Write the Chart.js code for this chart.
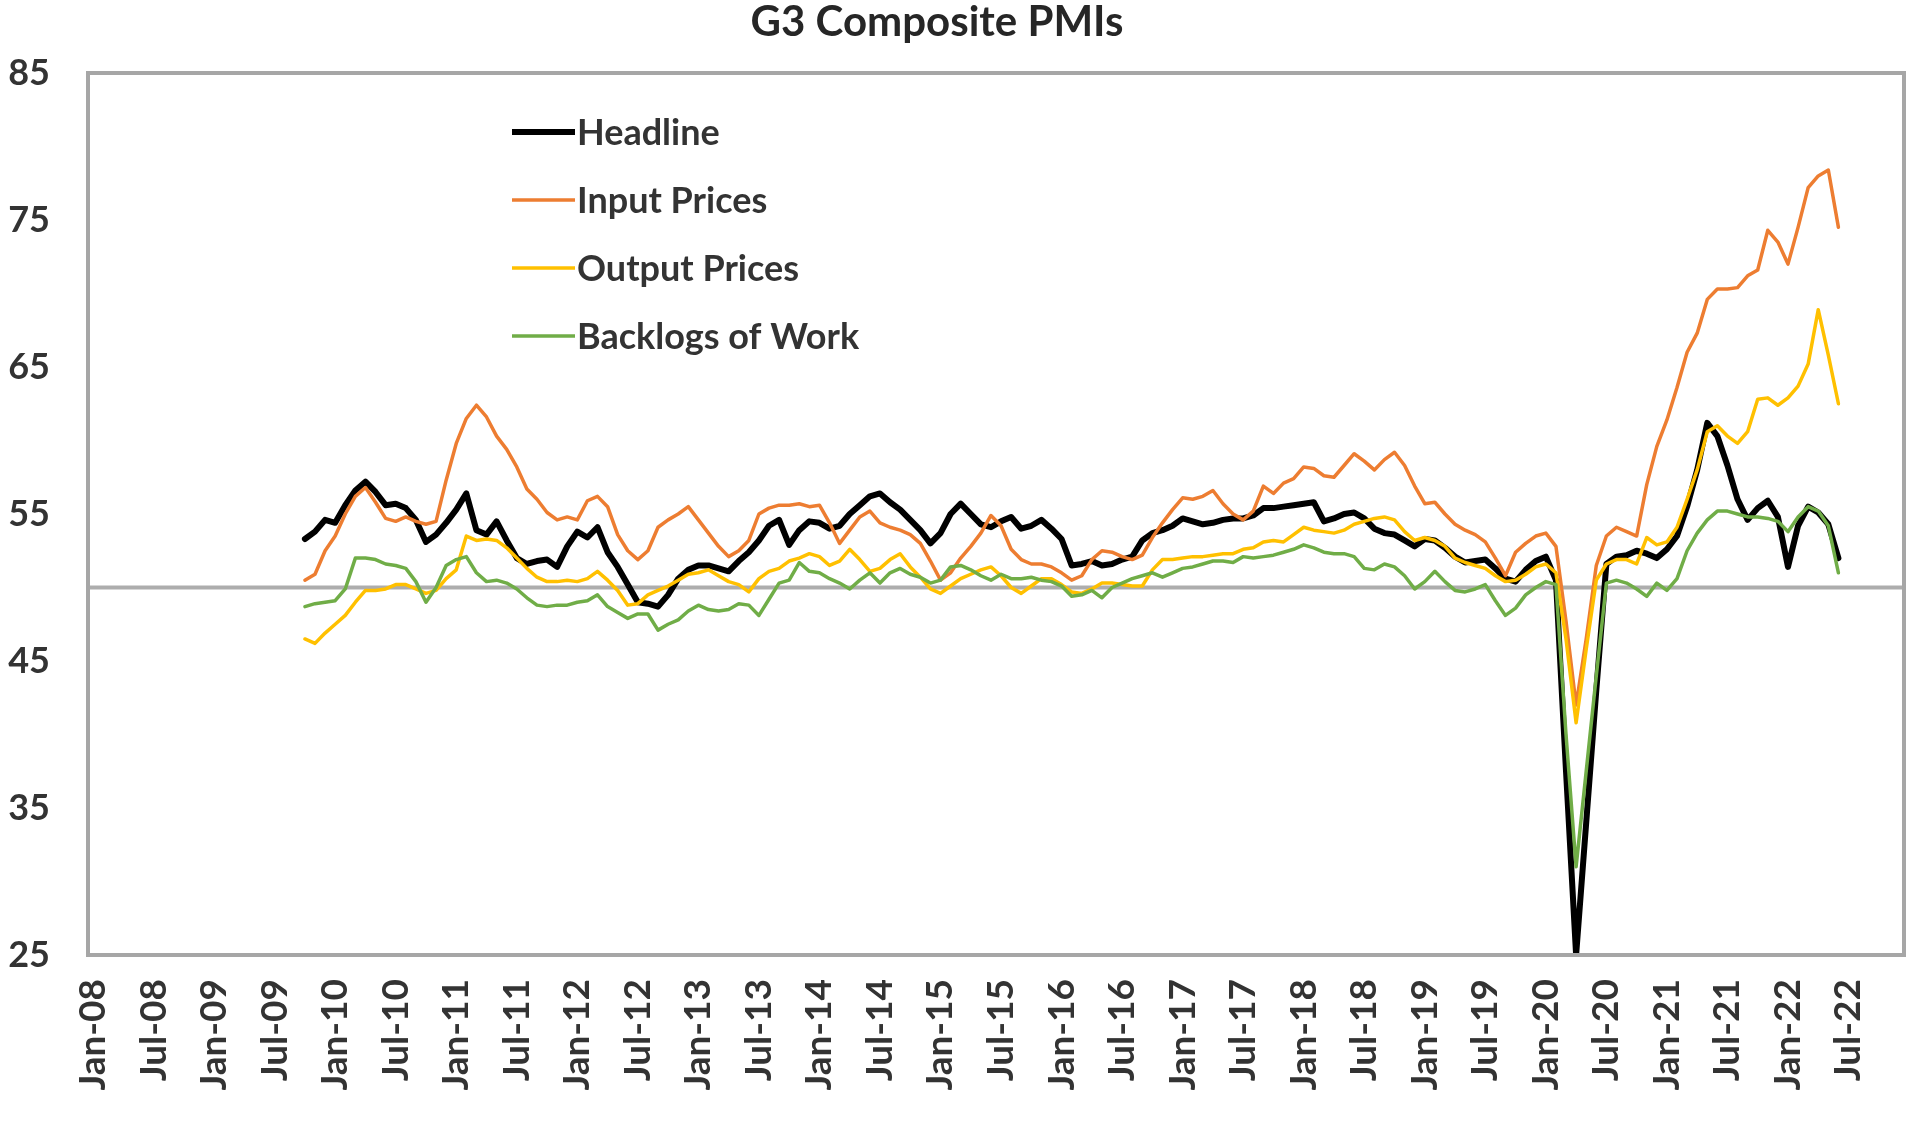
<!DOCTYPE html>
<html>
<head>
<meta charset="utf-8">
<title>G3 Composite PMIs</title>
<script src="https://cdn.jsdelivr.net/npm/chart.js@4.4.1/dist/chart.umd.min.js"></script>
<style>
    html, body { margin: 0; padding: 0; background: #fff; }
    #pmiChart { display: block; }
</style>
</head>
<body>
<canvas id="pmiChart" width="1920" height="1124"></canvas>
<script>
// G3 Composite PMIs - monthly, data from Oct-09 to Jun-22

const monthNames = ['Jan', 'Feb', 'Mar', 'Apr', 'May', 'Jun', 'Jul', 'Aug', 'Sep', 'Oct', 'Nov', 'Dec'];
const yearLabels = ['08', '09', '10', '11', '12', '13', '14', '15', '16', '17', '18', '19', '20', '21', '22'];
const firstDataMonth = 'Oct-09';
const yTicks = [25, 35, 45, 55, 65, 75, 85];
const neutralLevel = 50;

const headline = [
    53.3, 53.8, 54.6, 54.4, 55.6, 56.6, 57.2, 56.5, 55.6, 55.7, 55.4, 54.6,
    53.1, 53.6, 54.4, 55.3, 56.4, 53.9, 53.6, 54.5, 53.2, 52.0, 51.6, 51.8,
    51.9, 51.4, 52.8, 53.8, 53.4, 54.1, 52.4, 51.4, 50.2, 49.0, 48.9, 48.7,
    49.5, 50.6, 51.2, 51.5, 51.5, 51.3, 51.1, 51.8, 52.4, 53.2, 54.2, 54.6,
    52.9, 53.9, 54.5, 54.4, 54.0, 54.2, 55.0, 55.6, 56.2, 56.4, 55.8, 55.3,
    54.6, 53.9, 53.0, 53.7, 55.0, 55.7, 55.0, 54.3, 54.1, 54.5, 54.8, 54.0,
    54.2, 54.6, 54.0, 53.3, 51.5, 51.6, 51.8, 51.5, 51.6, 51.9, 52.1, 53.2,
    53.7, 53.9, 54.2, 54.7, 54.5, 54.3, 54.4, 54.6, 54.7, 54.7, 54.9, 55.4,
    55.4, 55.5, 55.6, 55.7, 55.8, 54.5, 54.7, 55.0, 55.1, 54.7, 54.0, 53.7,
    53.6, 53.2, 52.8, 53.3, 53.2, 52.7, 52.1, 51.7, 51.8, 51.9, 51.3, 50.6,
    50.4, 51.2, 51.8, 52.1, 50.5, 37.5, 25.0, 34.0, 43.0, 51.6, 52.1, 52.2,
    52.5, 52.3, 52.0, 52.6, 53.5, 55.5, 58.0, 61.2, 60.3, 58.3, 56.0, 54.6,
    55.4, 55.9, 54.8, 51.4, 54.2, 55.5, 55.1, 54.3, 52.0
];
const inputPrices = [
    50.5, 50.9, 52.5, 53.5, 55.0, 56.2, 56.8, 55.8, 54.7, 54.5, 54.8, 54.5,
    54.3, 54.5, 57.3, 59.8, 61.5, 62.4, 61.6, 60.3, 59.4, 58.2, 56.7, 56.0,
    55.1, 54.6, 54.8, 54.6, 55.9, 56.2, 55.5, 53.6, 52.5, 51.9, 52.5, 54.1,
    54.6, 55.0, 55.5, 54.6, 53.7, 52.8, 52.1, 52.5, 53.2, 55.0, 55.4, 55.6,
    55.6, 55.7, 55.5, 55.6, 54.4, 53.0, 53.9, 54.8, 55.2, 54.4, 54.1, 53.9,
    53.6, 53.0, 51.8, 50.5, 51.0, 52.0, 52.8, 53.7, 54.9, 54.2, 52.6, 51.9,
    51.6, 51.6, 51.4, 51.0, 50.5, 50.8, 51.9, 52.5, 52.4, 52.1, 51.9, 52.2,
    53.4, 54.4, 55.3, 56.1, 56.0, 56.2, 56.6, 55.7, 55.0, 54.6, 55.2, 56.9,
    56.4, 57.1, 57.4, 58.2, 58.1, 57.6, 57.5, 58.3, 59.1, 58.6, 58.0, 58.7,
    59.2, 58.3, 56.9, 55.7, 55.8, 55.0, 54.3, 53.9, 53.6, 53.1, 52.0, 50.8,
    52.4, 53.0, 53.5, 53.7, 52.8, 47.7, 42.0, 46.5, 51.5, 53.5, 54.1, 53.8,
    53.5, 57.0, 59.6, 61.4, 63.6, 66.0, 67.3, 69.6, 70.3, 70.3, 70.4, 71.2,
    71.6, 74.3, 73.5, 72.0, 74.5, 77.2, 78.0, 78.4, 74.5
];
const outputPrices = [
    46.5, 46.2, 46.9, 47.5, 48.1, 49.0, 49.8, 49.8, 49.9, 50.2, 50.2, 49.9,
    49.6, 49.8, 50.6, 51.2, 53.5, 53.2, 53.3, 53.2, 52.7, 52.0, 51.3, 50.7,
    50.4, 50.4, 50.5, 50.4, 50.6, 51.1, 50.5, 49.8, 48.8, 48.9, 49.5, 49.8,
    50.1, 50.5, 50.9, 51.0, 51.2, 50.8, 50.4, 50.2, 49.7, 50.6, 51.1, 51.3,
    51.8, 52.0, 52.3, 52.1, 51.5, 51.8, 52.6, 51.9, 51.1, 51.3, 51.9, 52.3,
    51.4, 50.7, 49.9, 49.6, 50.1, 50.6, 50.9, 51.2, 51.4, 50.8, 50.0, 49.6,
    50.1, 50.6, 50.6, 50.2, 49.7, 49.6, 49.9, 50.3, 50.3, 50.2, 50.1, 50.1,
    51.2, 51.9, 51.9, 52.0, 52.1, 52.1, 52.2, 52.3, 52.3, 52.6, 52.7, 53.1,
    53.2, 53.1, 53.6, 54.1, 53.9, 53.8, 53.7, 53.9, 54.3, 54.5, 54.7, 54.8,
    54.6, 53.8, 53.2, 53.4, 53.2, 52.8, 52.0, 51.7, 51.5, 51.3, 50.8, 50.4,
    50.5, 50.9, 51.4, 51.6, 51.0, 46.5, 40.8, 45.8, 50.5, 51.6, 51.9, 51.9,
    51.6, 53.4, 52.9, 53.1, 54.1, 56.0, 58.0, 60.6, 61.0, 60.3, 59.8, 60.6,
    62.8, 62.9, 62.4, 62.9, 63.7, 65.2, 68.9, 65.8, 62.5
];
const backlogsOfWork = [
    48.7, 48.9, 49.0, 49.1, 49.9, 52.0, 52.0, 51.9, 51.6, 51.5, 51.3, 50.4,
    49.0, 50.0, 51.5, 51.9, 52.1, 51.0, 50.4, 50.5, 50.3, 49.9, 49.3, 48.8,
    48.7, 48.8, 48.8, 49.0, 49.1, 49.5, 48.7, 48.3, 47.9, 48.2, 48.2, 47.1,
    47.5, 47.8, 48.4, 48.8, 48.5, 48.4, 48.5, 48.9, 48.8, 48.1, 49.2, 50.3,
    50.5, 51.7, 51.1, 51.0, 50.6, 50.3, 49.9, 50.5, 51.0, 50.3, 51.0, 51.3,
    50.9, 50.7, 50.3, 50.5, 51.4, 51.5, 51.2, 50.8, 50.5, 50.9, 50.6, 50.6,
    50.7, 50.5, 50.4, 50.1, 49.4, 49.5, 49.8, 49.3, 50.0, 50.3, 50.6, 50.8,
    51.0, 50.7, 51.0, 51.3, 51.4, 51.6, 51.8, 51.8, 51.7, 52.1, 52.0, 52.1,
    52.2, 52.4, 52.6, 52.9, 52.7, 52.4, 52.3, 52.3, 52.1, 51.3, 51.2, 51.6,
    51.4, 50.8, 49.9, 50.4, 51.1, 50.4, 49.8, 49.7, 49.9, 50.2, 49.1, 48.1,
    48.6, 49.5, 50.0, 50.4, 50.2, 40.0, 31.0, 37.5, 44.0, 50.3, 50.5, 50.3,
    49.9, 49.4, 50.3, 49.8, 50.6, 52.5, 53.7, 54.6, 55.2, 55.2, 55.0, 54.8,
    54.8, 54.7, 54.5, 53.8, 54.8, 55.5, 55.2, 54.2, 51.0
];

// Category axis runs Jan-08 .. Dec-22, labelled every 6 months
const categories = [];
yearLabels.forEach(function(yy) {
    monthNames.forEach(function(m) { categories.push(m + '-' + yy); });
});
const startIndex = categories.indexOf(firstDataMonth);

function onAxis(series) {
    return categories.map(function(c, i) {
        const k = i - startIndex;
        return (k >= 0 && k < series.length) ? series[k] : null;
    });
}

const FONT = 'Lato, "Open Sans", sans-serif';
const TEXT_COLOR = '#333333';
const FRAME_COLOR = '#a6a6a6';

// Plot frame and the 50 line (axis crossing)
const framePlugin = {
    id: 'frame',
    beforeDatasetsDraw(chart) {
        const ctx = chart.ctx;
        const area = chart.chartArea;
        const y50 = chart.scales.y.getPixelForValue(neutralLevel);
        ctx.save();
        ctx.strokeStyle = '#adadad';
        ctx.lineWidth = 4;
        ctx.beginPath();
        ctx.moveTo(area.left, y50);
        ctx.lineTo(area.right, y50);
        ctx.stroke();
        ctx.restore();
    },
    afterDatasetsDraw(chart) {
        const ctx = chart.ctx;
        const area = chart.chartArea;
        ctx.save();
        ctx.strokeStyle = FRAME_COLOR;
        ctx.lineWidth = 4;
        ctx.strokeRect(area.left, area.top, area.right - area.left, area.bottom - area.top);
        ctx.restore();
    }
};

// Title sits slightly left of the plot centre, like the original
const titlePlugin = {
    id: 'pmiTitle',
    afterDraw(chart) {
        const ctx = chart.ctx;
        ctx.save();
        ctx.fillStyle = '#262626';
        ctx.font = 'bold 42px ' + FONT;
        ctx.textAlign = 'center';
        ctx.textBaseline = 'middle';
        ctx.fillText('G3 Composite PMIs', 937, 22);
        ctx.restore();
    }
};

// Legend drawn inside the plot, top left
const legendPlugin = {
    id: 'insideLegend',
    afterDraw(chart) {
        const ctx = chart.ctx;
        const x0 = 512, y0 = 132, lineLen = 63, rowGap = 68;
        ctx.save();
        ctx.font = 'bold 36px ' + FONT;
        ctx.textBaseline = 'middle';
        ctx.textAlign = 'left';
        chart.data.datasets.forEach(function(ds, k) {
            const y = y0 + k * rowGap;
            ctx.strokeStyle = ds.borderColor;
            ctx.lineWidth = ds.borderWidth;
            ctx.lineCap = 'butt';
            ctx.beginPath();
            ctx.moveTo(x0, y);
            ctx.lineTo(x0 + lineLen, y);
            ctx.stroke();
            ctx.fillStyle = TEXT_COLOR;
            ctx.fillText(ds.label, x0 + lineLen + 2, y + 1);
        });
        ctx.restore();
    }
};

function lineSet(label, values, color, width, order) {
    return {
        label: label,
        data: onAxis(values),
        borderColor: color,
        backgroundColor: color,
        borderWidth: width,
        pointRadius: 0,
        tension: 0,
        fill: false,
        spanGaps: false,
        borderJoinStyle: 'round',
        borderCapStyle: 'round',
        order: order
    };
}

new Chart(document.getElementById('pmiChart'), {
    type: 'line',
    data: {
        labels: categories,
        datasets: [
            lineSet('Headline', headline, '#000000', 6, 4),
            lineSet('Input Prices', inputPrices, '#ED7D31', 3.5, 3),
            lineSet('Output Prices', outputPrices, '#FFC000', 3.5, 2),
            lineSet('Backlogs of Work', backlogsOfWork, '#70AD47', 3.5, 1)
        ]
    },
    options: {
        responsive: false,
        animation: false,
        devicePixelRatio: 1,
        layout: { padding: { top: 73, right: 16, left: 0, bottom: 0 } },
        scales: {
            x: {
                type: 'category',
                offset: true,
                grid: { display: false, drawTicks: false },
                border: { display: false },
                afterFit: function(scale) {
                    scale.height = 169;
                    scale.paddingLeft = 0;
                    scale.paddingRight = 0;
                },
                ticks: {
                    autoSkip: false,
                    minRotation: 90,
                    maxRotation: 90,
                    padding: 24,
                    color: TEXT_COLOR,
                    font: { family: FONT, size: 37, weight: 'bold' },
                    callback: function(value, index) {
                        return index % 6 === 0 ? categories[index] : '';
                    }
                }
            },
            y: {
                min: yTicks[0],
                max: yTicks[yTicks.length - 1],
                grid: { display: false, drawTicks: false },
                border: { display: false },
                afterFit: function(scale) {
                    scale.width = 88;
                    scale.paddingTop = 0;
                    scale.paddingBottom = 0;
                },
                ticks: {
                    stepSize: yTicks[1] - yTicks[0],
                    padding: 38,
                    color: TEXT_COLOR,
                    font: { family: FONT, size: 36, weight: 'bold' }
                }
            }
        },
        plugins: {
            legend: { display: false },
            title: { display: false },
            tooltip: { enabled: false }
        }
    },
    plugins: [framePlugin, titlePlugin, legendPlugin]
});
</script>
</body>
</html>
